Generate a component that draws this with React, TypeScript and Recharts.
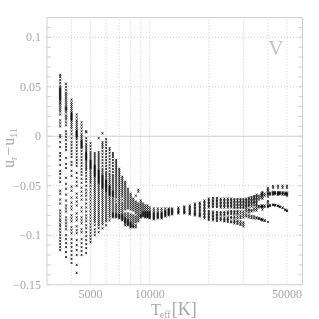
import React from 'react';
import {
  ScatterChart, Scatter, XAxis, YAxis, ReferenceLine, Label
} from 'recharts';

const teffGrid = [4000, 5000, 6000, 7000, 8000, 9000, 10000, 20000, 30000, 40000, 50000];
const teffLabels = [5000, 10000, 50000];
const uMajor = [0.1, 0.05, -0.05, -0.1];
const uLabels = [0.1, 0.05, 0, -0.05, -0.1, -0.15];
const uTicks = [0.11, 0.1, 0.09, 0.08, 0.07, 0.06, 0.05, 0.04, 0.03, 0.02, 0.01, 0, -0.01, -0.02, -0.03, -0.04, -0.05, -0.06, -0.07, -0.08, -0.09, -0.1, -0.11, -0.12, -0.13, -0.14, -0.15];

const u3500 = [0.062, 0.06, 0.057, 0.054, 0.051, 0.049, 0.048, 0.047, 0.046, 0.045, 0.044, 0.043, 0.042, 0.041, 0.04, 0.039, 0.038, 0.037, 0.036, 0.034, 0.033, 0.031, 0.029, 0.027, 0.025, 0.022, 0.016, 0.013, 0.01, 0.001, -0.001, -0.006, -0.011, -0.017, -0.02, -0.024, -0.029, -0.035, -0.038, -0.042, -0.046, -0.055, -0.058, -0.064, -0.068, -0.075, -0.078, -0.081, -0.084, -0.086, -0.089, -0.091, -0.094, -0.097, -0.1, -0.103, -0.106, -0.109, -0.112, -0.115];
const u3750 = [0.053, 0.05, 0.047, 0.044, 0.042, 0.04, 0.038, 0.036, 0.034, 0.032, 0.03, 0.029, 0.028, 0.027, 0.026, 0.024, 0.021, 0.019, 0.017, 0.014, 0.011, 0.005, 0.002, -0.001, -0.004, -0.008, -0.011, -0.014, -0.022, -0.028, -0.032, -0.042, -0.048, -0.053, -0.059, -0.065, -0.07, -0.073, -0.076, -0.082, -0.085, -0.088, -0.091, -0.094, -0.1, -0.104, -0.108, -0.112, -0.117, -0.122];
const u4000 = [0.037, 0.034, 0.032, 0.03, 0.028, 0.026, 0.024, 0.023, 0.022, 0.021, 0.02, 0.019, 0.018, 0.017, 0.016, 0.014, 0.012, 0.01, 0.008, 0.005, 0.002, -0.002, -0.006, -0.009, -0.012, -0.015, -0.018, -0.021, -0.026, -0.029, -0.035, -0.04, -0.051, -0.055, -0.062, -0.067, -0.071, -0.074, -0.08, -0.083, -0.086, -0.092, -0.095, -0.098, -0.104, -0.108, -0.112, -0.116, -0.12, -0.124, -0.128];
const u4250 = [0.022, 0.019, 0.016, 0.014, 0.012, 0.01, 0.008, 0.006, 0.005, 0.004, 0.003, 0.002, 0.001, 0, -0.001, -0.003, -0.006, -0.009, -0.012, -0.015, -0.018, -0.021, -0.024, -0.027, -0.03, -0.037, -0.042, -0.046, -0.05, -0.058, -0.062, -0.066, -0.07, -0.078, -0.082, -0.085, -0.091, -0.095, -0.098, -0.105, -0.11, -0.115, -0.12, -0.13, -0.138];
const u4500 = [0.014, 0.011, 0.008, 0.005, 0.002, 0, -0.002, -0.004, -0.005, -0.006, -0.007, -0.008, -0.009, -0.01, -0.011, -0.012, -0.015, -0.018, -0.021, -0.024, -0.027, -0.03, -0.033, -0.036, -0.039, -0.043, -0.047, -0.052, -0.056, -0.06, -0.064, -0.072, -0.076, -0.082, -0.085, -0.088, -0.094, -0.097, -0.104, -0.108, -0.112, -0.116, -0.12];
const u4750 = [0.005, 0.004, -0.002, -0.005, -0.008, -0.01, -0.012, -0.014, -0.016, -0.017, -0.018, -0.019, -0.02, -0.021, -0.022, -0.023, -0.024, -0.026, -0.028, -0.03, -0.032, -0.034, -0.037, -0.04, -0.043, -0.046, -0.05, -0.054, -0.057, -0.06, -0.064, -0.068, -0.072, -0.076, -0.08, -0.083, -0.086, -0.09, -0.093, -0.097, -0.101, -0.105, -0.109, -0.113, -0.118];
const u5000 = [-0.007, -0.01, -0.013, -0.016, -0.018, -0.02, -0.022, -0.024, -0.025, -0.026, -0.027, -0.028, -0.029, -0.03, -0.031, -0.032, -0.033, -0.035, -0.037, -0.039, -0.041, -0.043, -0.045, -0.047, -0.05, -0.053, -0.056, -0.059, -0.062, -0.065, -0.068, -0.071, -0.074, -0.077, -0.08, -0.083, -0.086, -0.089, -0.092, -0.095, -0.098, -0.101, -0.104, -0.107];
const u5250 = [-0.017, -0.019, -0.021, -0.023, -0.025, -0.027, -0.029, -0.03, -0.031, -0.032, -0.033, -0.034, -0.035, -0.036, -0.037, -0.038, -0.039, -0.04, -0.041, -0.043, -0.045, -0.047, -0.049, -0.051, -0.053, -0.055, -0.057, -0.059, -0.061, -0.063, -0.065, -0.067, -0.069, -0.071, -0.073, -0.075, -0.077, -0.079, -0.081, -0.083, -0.085, -0.087, -0.09, -0.094, -0.097, -0.1];
const u5500 = [-0.002, -0.016, -0.018, -0.02, -0.022, -0.024, -0.026, -0.028, -0.03, -0.032, -0.034, -0.035, -0.036, -0.037, -0.038, -0.039, -0.04, -0.041, -0.042, -0.043, -0.044, -0.045, -0.046, -0.047, -0.048, -0.05, -0.052, -0.054, -0.056, -0.058, -0.06, -0.062, -0.064, -0.066, -0.068, -0.07, -0.072, -0.074, -0.076, -0.078, -0.08, -0.082, -0.084, -0.086, -0.088, -0.09, -0.093, -0.097];
const u5750 = [0.003, -0.006, -0.008, -0.01, -0.012, -0.015, -0.018, -0.021, -0.024, -0.027, -0.03, -0.033, -0.035, -0.037, -0.039, -0.04, -0.041, -0.042, -0.043, -0.044, -0.045, -0.046, -0.047, -0.048, -0.049, -0.05, -0.051, -0.052, -0.053, -0.055, -0.057, -0.059, -0.061, -0.063, -0.065, -0.067, -0.069, -0.071, -0.073, -0.075, -0.077, -0.079, -0.081, -0.083, -0.085, -0.087, -0.089, -0.093];
const u6000 = [-0.003, -0.006, -0.009, -0.012, -0.015, -0.018, -0.021, -0.024, -0.027, -0.03, -0.033, -0.036, -0.038, -0.04, -0.042, -0.044, -0.045, -0.046, -0.047, -0.048, -0.049, -0.05, -0.051, -0.052, -0.053, -0.054, -0.055, -0.056, -0.058, -0.06, -0.062, -0.064, -0.066, -0.068, -0.07, -0.072, -0.074, -0.076, -0.078, -0.08, -0.082, -0.084, -0.086, -0.09];
const u6250 = [-0.012, -0.014, -0.017, -0.02, -0.023, -0.026, -0.029, -0.032, -0.035, -0.038, -0.04, -0.042, -0.044, -0.046, -0.048, -0.05, -0.051, -0.052, -0.053, -0.054, -0.055, -0.056, -0.057, -0.058, -0.059, -0.06, -0.062, -0.064, -0.066, -0.068, -0.07, -0.072, -0.074, -0.076, -0.078, -0.08, -0.082, -0.085];
const u6500 = [-0.017, -0.019, -0.021, -0.024, -0.027, -0.03, -0.033, -0.036, -0.039, -0.041, -0.043, -0.045, -0.047, -0.049, -0.051, -0.053, -0.055, -0.056, -0.057, -0.058, -0.059, -0.06, -0.061, -0.063, -0.065, -0.067, -0.069, -0.071, -0.073, -0.075, -0.077, -0.078, -0.079, -0.08, -0.081, -0.082];
const u6750 = [-0.024, -0.026, -0.028, -0.03, -0.032, -0.034, -0.036, -0.038, -0.04, -0.042, -0.044, -0.046, -0.048, -0.05, -0.052, -0.054, -0.056, -0.058, -0.06, -0.062, -0.065, -0.068, -0.07, -0.072, -0.074, -0.076, -0.078, -0.079, -0.08, -0.081, -0.082];
const u7000 = [-0.033, -0.035, -0.037, -0.039, -0.041, -0.043, -0.045, -0.047, -0.049, -0.051, -0.053, -0.055, -0.057, -0.059, -0.061, -0.063, -0.065, -0.067, -0.069, -0.071, -0.073, -0.075, -0.077, -0.079, -0.08, -0.081, -0.082, -0.083];
const u7250 = [-0.041, -0.043, -0.045, -0.047, -0.049, -0.051, -0.053, -0.055, -0.057, -0.059, -0.061, -0.064, -0.067, -0.069, -0.071, -0.073, -0.075, -0.077, -0.079, -0.08, -0.081, -0.082, -0.083, -0.084, -0.085];
const u7500 = [-0.046, -0.048, -0.05, -0.052, -0.054, -0.056, -0.058, -0.06, -0.062, -0.064, -0.066, -0.068, -0.07, -0.072, -0.074, -0.078, -0.08, -0.082, -0.083, -0.084, -0.085, -0.086, -0.087, -0.088, -0.09];
const u7750 = [-0.053, -0.055, -0.057, -0.059, -0.061, -0.063, -0.065, -0.067, -0.069, -0.071, -0.073, -0.078, -0.08, -0.082, -0.084, -0.085, -0.086, -0.087, -0.088, -0.089, -0.09];
const u8000 = [-0.058, -0.06, -0.062, -0.064, -0.066, -0.068, -0.07, -0.072, -0.074, -0.079, -0.081, -0.083, -0.085, -0.087, -0.088, -0.089, -0.09, -0.091, -0.092];
const u8250 = [-0.063, -0.065, -0.067, -0.069, -0.071, -0.073, -0.075, -0.08, -0.082, -0.084, -0.086, -0.088, -0.09, -0.091, -0.092];
const u8500 = [-0.06, -0.066, -0.068, -0.07, -0.072, -0.074, -0.076, -0.078, -0.081, -0.083, -0.085, -0.087, -0.09, -0.092];
const u8750 = [-0.054, -0.056, -0.068, -0.07, -0.072, -0.074, -0.076, -0.078, -0.08, -0.082, -0.084, -0.086];
const u9000 = [-0.065, -0.067, -0.069, -0.071, -0.073, -0.075, -0.077, -0.079, -0.08, -0.081, -0.082];
const u9250 = [-0.068, -0.07, -0.072, -0.074, -0.076, -0.077, -0.078, -0.079, -0.08, -0.081];
const u9500 = [-0.07, -0.072, -0.074, -0.076, -0.077, -0.078, -0.079, -0.08, -0.081, -0.082];
const u9750 = [-0.07, -0.072, -0.074, -0.076, -0.077, -0.078, -0.079, -0.08, -0.081, -0.082];
const u10000 = [-0.072, -0.074, -0.076, -0.077, -0.078, -0.079, -0.08, -0.081, -0.082, -0.083];
const u10500 = [-0.073, -0.075, -0.077, -0.078, -0.079, -0.08, -0.081, -0.082, -0.083, -0.084];
const u11000 = [-0.073, -0.075, -0.077, -0.078, -0.079, -0.08, -0.081, -0.082, -0.083];
const u11500 = [-0.073, -0.075, -0.077, -0.078, -0.079, -0.08, -0.081, -0.082, -0.083];
const u12000 = [-0.073, -0.075, -0.076, -0.077, -0.078, -0.079, -0.08, -0.081];
const u12500 = [-0.073, -0.074, -0.075, -0.076, -0.077, -0.078, -0.079, -0.08];
const u13000 = [-0.073, -0.074, -0.075, -0.076, -0.077, -0.078, -0.079];
const u14000 = [-0.072, -0.0735, -0.075, -0.076, -0.077, -0.078];
const u15000 = [-0.071, -0.072, -0.0735, -0.075, -0.076, -0.077, -0.078];
const u16000 = [-0.07, -0.0715, -0.073, -0.074, -0.0755, -0.077, -0.078, -0.079];
const u17000 = [-0.068, -0.0695, -0.071, -0.0725, -0.074, -0.0755, -0.077, -0.078, -0.079, -0.08];
const u18000 = [-0.067, -0.0685, -0.07, -0.0715, -0.073, -0.0745, -0.076, -0.0775, -0.079, -0.08, -0.081];
const u19000 = [-0.065, -0.0665, -0.068, -0.0695, -0.071, -0.0725, -0.074, -0.0755, -0.077, -0.0785, -0.08, -0.0815, -0.083];
const u20000 = [-0.063, -0.0645, -0.066, -0.0675, -0.069, -0.0705, -0.072, -0.0755, -0.077, -0.0785, -0.08, -0.0815, -0.083, -0.0845];
const u21000 = [-0.0625, -0.064, -0.0655, -0.067, -0.0685, -0.07, -0.0715, -0.076, -0.0775, -0.079, -0.0805, -0.082, -0.0835, -0.085];
const u22000 = [-0.0625, -0.064, -0.0655, -0.067, -0.0685, -0.07, -0.0715, -0.0765, -0.078, -0.0795, -0.081, -0.0825, -0.084, -0.0855];
const u23000 = [-0.063, -0.0645, -0.066, -0.0675, -0.069, -0.0705, -0.072, -0.0765, -0.078, -0.0795, -0.082, -0.0835, -0.085];
const u24000 = [-0.063, -0.0645, -0.066, -0.0675, -0.069, -0.0705, -0.072, -0.0765, -0.078, -0.0795, -0.082, -0.0835, -0.085, -0.086];
const u25000 = [-0.063, -0.0645, -0.066, -0.0675, -0.069, -0.0705, -0.072, -0.076, -0.0775, -0.079, -0.082, -0.0835, -0.085, -0.0865];
const u26000 = [-0.063, -0.0645, -0.066, -0.0675, -0.069, -0.0705, -0.072, -0.0755, -0.077, -0.0785, -0.0815, -0.083, -0.086, -0.087];
const u27000 = [-0.0635, -0.065, -0.0665, -0.068, -0.0695, -0.071, -0.0725, -0.0755, -0.077, -0.0785, -0.081, -0.0825, -0.085, -0.0865, -0.088];
const u28000 = [-0.0635, -0.065, -0.0665, -0.068, -0.0695, -0.071, -0.0725, -0.0755, -0.077, -0.0785, -0.081, -0.083, -0.0855, -0.087, -0.0885];
const u29000 = [-0.0635, -0.065, -0.0665, -0.068, -0.0695, -0.071, -0.0725, -0.076, -0.078, -0.0805, -0.0825, -0.086, -0.088, -0.0895];
const u30000 = [-0.0635, -0.065, -0.0665, -0.068, -0.0695, -0.071, -0.0725, -0.076, -0.078, -0.08, -0.082, -0.087, -0.089, -0.091];
const u31000 = [-0.063, -0.0645, -0.066, -0.0675, -0.069, -0.0705, -0.072, -0.074, -0.076, -0.079, -0.081];
const u32000 = [-0.062, -0.0635, -0.065, -0.0665, -0.068, -0.0695, -0.071, -0.074, -0.075, -0.077, -0.08, -0.082];
const u33000 = [-0.0615, -0.063, -0.0645, -0.066, -0.0675, -0.069, -0.071, -0.0745, -0.076, -0.0805, -0.0825];
const u34000 = [-0.0605, -0.062, -0.0635, -0.065, -0.0665, -0.068, -0.07, -0.073, -0.075, -0.081, -0.083];
const u35000 = [-0.059, -0.0605, -0.062, -0.0635, -0.065, -0.0665, -0.068, -0.0695, -0.071, -0.073, -0.075, -0.082, -0.083];
const u36000 = [-0.06, -0.062, -0.064, -0.0705, -0.072, -0.0825, -0.0835];
const u37000 = [-0.058, -0.06, -0.062, -0.07, -0.0715, -0.0835, -0.0845];
const u37500 = [-0.0565, -0.058, -0.0595, -0.061, -0.063, -0.07, -0.071, -0.072, -0.074, -0.084, -0.085];
const u38500 = [-0.058, -0.06, -0.07, -0.0715, -0.085, -0.0855];
const u40000 = [-0.0525, -0.054, -0.055, -0.057, -0.058, -0.059, -0.061, -0.0655, -0.067, -0.069, -0.0705, -0.0715, -0.0865];
const u41000 = [-0.057, -0.058, -0.059, -0.0695, -0.0705];
const u42500 = [-0.0505, -0.052, -0.056, -0.057, -0.058, -0.059, -0.069, -0.0695];
const u43500 = [-0.0565, -0.0575, -0.0585, -0.0695, -0.07];
const u45000 = [-0.05, -0.052, -0.0565, -0.0575, -0.0585, -0.059, -0.07, -0.0705];
const u46000 = [-0.0565, -0.0575, -0.0585, -0.071, -0.0715];
const u47500 = [-0.05, -0.052, -0.0565, -0.0575, -0.0585, -0.059, -0.072, -0.0725];
const u49000 = [-0.057, -0.058, -0.059, -0.074, -0.0745];
const u50000 = [-0.05, -0.052, -0.057, -0.058, -0.059, -0.06, -0.075, -0.0755];

const columns: [number, number[]][] = [
  [3500, u3500], [3750, u3750], [4000, u4000], [4250, u4250], [4500, u4500], [4750, u4750],
  [5000, u5000], [5250, u5250], [5500, u5500], [5750, u5750], [6000, u6000], [6250, u6250],
  [6500, u6500], [6750, u6750], [7000, u7000], [7250, u7250], [7500, u7500], [7750, u7750],
  [8000, u8000], [8250, u8250], [8500, u8500], [8750, u8750], [9000, u9000], [9250, u9250],
  [9500, u9500], [9750, u9750], [10000, u10000], [10500, u10500], [11000, u11000], [11500, u11500],
  [12000, u12000], [12500, u12500], [13000, u13000], [14000, u14000], [15000, u15000], [16000, u16000],
  [17000, u17000], [18000, u18000], [19000, u19000], [20000, u20000], [21000, u21000], [22000, u22000],
  [23000, u23000], [24000, u24000], [25000, u25000], [26000, u26000], [27000, u27000], [28000, u28000],
  [29000, u29000], [30000, u30000], [31000, u31000], [32000, u32000], [33000, u33000], [34000, u34000],
  [35000, u35000], [36000, u36000], [37000, u37000], [37500, u37500], [38500, u38500], [40000, u40000],
  [41000, u41000], [42500, u42500], [43500, u43500], [45000, u45000], [46000, u46000], [47500, u47500],
  [49000, u49000], [50000, u50000],
];
const points = columns.flatMap(([teff, us]) => us.map(u => ({ teff, u })));

const ink = '#a8a8a8';
const frame = '#cfcfcf';
const serif = '"Liberation Serif", serif';

// tiny x-shaped marker, the stars of the original plot
const Star = ({ cx, cy }: any) => (
  <path
    d={`M${cx - 0.85} ${cy - 1.1}L${cx + 0.85} ${cy + 1.1}M${cx - 0.85} ${cy + 1.1}L${cx + 0.85} ${cy - 1.1}`}
    stroke="#000"
    strokeWidth={0.75}
    fill="none"
  />
);

const sameNum = (a: number, b: number) => Math.abs(a - b) < 1e-6;

const LeftTick = ({ y, payload }: any) => {
  const hasLabel = uLabels.some(v => sameNum(v, payload.value));
  const text = String(Math.abs(payload.value));
  return (
    <g>
      <line x1={47} x2={51} y1={y} y2={y} stroke={frame} />
      {hasLabel && (
        <text x={41} y={y + 4} textAnchor="end" fill={ink} fontSize={12} fontFamily={serif}>
          {payload.value < 0 ? `\u2212${text}` : text}
        </text>
      )}
    </g>
  );
};

const RightTick = ({ y }: any) => (
  <line x1={298.5} x2={302.5} y1={y} y2={y} stroke={frame} />
);

const BottomTick = ({ x, payload }: any) => {
  if (!teffLabels.includes(payload.value)) return null;
  return (
    <text x={x} y={298} textAnchor="middle" fill={ink} fontSize={12} fontFamily={serif}>
      {payload.value}
    </text>
  );
};

const YTitle = () => (
  <text transform="translate(14,168) rotate(-90)" fill={ink} fontFamily={serif} fontSize={16}>
    u
    <tspan fontSize={10} dy={3}>r</tspan>
    <tspan dy={-3} dx={1}>{'\u2212'}</tspan>
    <tspan dx={1}>u</tspan>
    <tspan fontSize={10} dy={3}>11</tspan>
  </text>
);

const XTitle = () => (
  <text x={151} y={315} fill={ink} fontFamily={serif} fontSize={16}>
    T
    <tspan fontSize={10} dy={3} dx={-1}>eff</tspan>
    <tspan fontSize={18} dy={-3} dx={1}>[K]</tspan>
  </text>
);

export default function App() {
  return (
    <div style={{ position: 'absolute', left: 0, top: 0, width: 319, height: 319, background: '#fff', filter: 'grayscale(1)' }}>
      <ScatterChart width={319} height={319} margin={{ top: 17.5, right: 0, bottom: 0, left: 0 }}>
        <XAxis
          type="number"
          dataKey="teff"
          scale="log"
          domain={[3000, 60000]}
          ticks={teffLabels}
          interval={0}
          height={34.3}
          allowDataOverflow
          axisLine={{ stroke: frame }}
          tickLine={false}
          tick={<BottomTick />}
          tickMargin={0}
          label={<XTitle />}
        />
        <YAxis
          yAxisId="left"
          type="number"
          dataKey="u"
          domain={[-0.15, 0.12]}
          ticks={uTicks}
          interval={0}
          width={47}
          allowDataOverflow
          axisLine={{ stroke: frame }}
          tickLine={false}
          tick={<LeftTick />}
          tickMargin={0}
          label={<YTitle />}
        />
        <YAxis
          yAxisId="right"
          orientation="right"
          type="number"
          domain={[-0.15, 0.12]}
          ticks={uTicks}
          interval={0}
          width={16.5}
          allowDataOverflow
          axisLine={{ stroke: frame }}
          tickLine={false}
          tick={<RightTick />}
          tickMargin={0}
        />
        {teffGrid.map(t => (
          <ReferenceLine key={t} yAxisId="left" x={t} stroke={frame} strokeDasharray="1 2" />
        ))}
        {uMajor.map(v => (
          <ReferenceLine key={v} yAxisId="left" y={v} stroke={frame} strokeDasharray="1 2" />
        ))}
        <ReferenceLine yAxisId="left" y={0} stroke={frame} />
        <ReferenceLine yAxisId="left" y={0.12} stroke={frame} />
        <ReferenceLine yAxisId="left" y={0.09} stroke="none">
          <Label value="V" position="insideRight" offset={19} fill="#c4c4c4" fontSize={21} fontFamily={serif} />
        </ReferenceLine>
        <Scatter yAxisId="left" data={points} isAnimationActive={false} shape={<Star />} />
      </ScatterChart>
    </div>
  );
}
